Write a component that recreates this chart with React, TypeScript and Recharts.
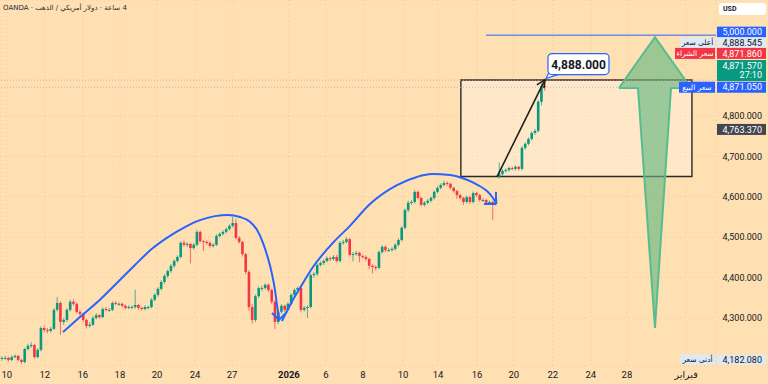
import React from 'react';
import {
  ComposedChart,
  Bar,
  Line,
  Area,
  XAxis,
  YAxis,
  CartesianGrid,
  ReferenceLine,
  ReferenceArea,
  ReferenceDot,
} from 'recharts';

type Candle = [number, number, number, number]; // open, high, low, close

// ---- 4h candles ----
const candlesDecember: Candle[] = [
  [4199, 4205, 4194, 4201], [4201, 4206, 4197, 4201], [4201, 4204, 4192, 4196], [4196, 4207, 4193, 4203],
  [4203, 4210, 4200, 4206], [4206, 4208, 4193, 4196], [4196, 4199, 4186, 4191], [4191, 4226, 4188, 4223],
  [4223, 4236, 4219, 4231], [4231, 4240, 4226, 4233], [4233, 4236, 4199, 4203], [4203, 4225, 4200, 4221],
  [4221, 4279, 4217, 4275], [4275, 4281, 4265, 4270], [4270, 4275, 4262, 4268], [4268, 4278, 4264, 4273],
  [4273, 4324, 4270, 4320], [4320, 4352, 4316, 4337], [4337, 4341, 4258, 4290], [4290, 4300, 4283, 4295],
  [4295, 4324, 4290, 4320], [4320, 4345, 4316, 4340], [4340, 4346, 4330, 4335], [4335, 4338, 4311, 4315],
  [4315, 4319, 4304, 4310], [4310, 4313, 4290, 4295], [4295, 4298, 4274, 4280], [4280, 4290, 4276, 4283],
  [4283, 4305, 4280, 4300], [4300, 4312, 4296, 4307], [4307, 4310, 4298, 4302], [4302, 4326, 4299, 4322],
  [4322, 4327, 4316, 4320], [4320, 4325, 4315, 4320], [4320, 4341, 4317, 4337], [4337, 4342, 4331, 4335],
  [4335, 4339, 4330, 4335], [4335, 4338, 4326, 4330], [4330, 4333, 4321, 4325], [4325, 4331, 4322, 4327],
  [4327, 4331, 4322, 4327], [4327, 4370, 4323, 4332], [4332, 4335, 4320, 4325], [4325, 4328, 4318, 4322],
  [4322, 4331, 4319, 4327], [4327, 4330, 4321, 4327], [4327, 4349, 4324, 4345], [4345, 4361, 4341, 4357],
  [4357, 4376, 4353, 4372], [4372, 4393, 4368, 4389], [4389, 4408, 4384, 4404], [4404, 4420, 4399, 4416],
  [4416, 4433, 4411, 4429], [4429, 4445, 4424, 4441], [4441, 4455, 4437, 4451], [4451, 4490, 4447, 4486],
  [4486, 4492, 4476, 4481], [4481, 4488, 4476, 4483], [4483, 4486, 4435, 4473], [4473, 4485, 4469, 4481],
  [4481, 4518, 4477, 4513], [4513, 4516, 4486, 4490], [4490, 4494, 4466, 4488], [4488, 4492, 4481, 4486],
  [4486, 4489, 4474, 4478], [4478, 4485, 4474, 4481], [4481, 4507, 4478, 4503], [4503, 4512, 4499, 4508],
  [4508, 4517, 4504, 4513], [4513, 4524, 4509, 4520], [4520, 4532, 4516, 4528], [4528, 4550, 4524, 4535],
  [4535, 4545, 4494, 4498], [4498, 4503, 4484, 4488], [4488, 4491, 4452, 4458], [4458, 4461, 4408, 4414],
  [4414, 4418, 4318, 4327], [4327, 4335, 4286, 4295],
];

const candlesJanuary: Candle[] = [
  [4295, 4358, 4290, 4354], [4354, 4378, 4349, 4374], [4374, 4380, 4366, 4374], [4374, 4386, 4370, 4382],
  [4382, 4385, 4364, 4369], [4369, 4372, 4334, 4340], [4340, 4344, 4272, 4290], [4290, 4319, 4285, 4315],
  [4315, 4334, 4310, 4330], [4330, 4333, 4315, 4320], [4320, 4339, 4316, 4335], [4335, 4361, 4331, 4357],
  [4357, 4373, 4352, 4369], [4369, 4378, 4364, 4374], [4374, 4377, 4314, 4320], [4320, 4330, 4316, 4325],
  [4325, 4331, 4300, 4327], [4327, 4410, 4324, 4406], [4406, 4414, 4400, 4409], [4409, 4435, 4404, 4431],
  [4431, 4440, 4427, 4436], [4436, 4445, 4431, 4441], [4441, 4452, 4437, 4448], [4448, 4452, 4441, 4446],
  [4446, 4455, 4442, 4451], [4451, 4456, 4437, 4441], [4441, 4490, 4437, 4486], [4486, 4493, 4481, 4488],
  [4488, 4500, 4484, 4495], [4495, 4498, 4452, 4456], [4456, 4463, 4440, 4458], [4458, 4466, 4454, 4461],
  [4461, 4464, 4438, 4453], [4453, 4457, 4447, 4451], [4451, 4455, 4440, 4446], [4446, 4449, 4420, 4429],
  [4429, 4433, 4410, 4426], [4426, 4430, 4418, 4424], [4424, 4467, 4420, 4463], [4463, 4480, 4459, 4476],
  [4476, 4480, 4463, 4468], [4468, 4473, 4463, 4468], [4468, 4475, 4464, 4471], [4471, 4485, 4467, 4481],
  [4481, 4497, 4477, 4493], [4493, 4527, 4489, 4523], [4523, 4571, 4519, 4567], [4567, 4590, 4562, 4585],
  [4585, 4592, 4580, 4587], [4587, 4616, 4583, 4612], [4612, 4615, 4593, 4597], [4597, 4600, 4576, 4580],
  [4580, 4589, 4576, 4585], [4585, 4594, 4581, 4590], [4590, 4601, 4586, 4597], [4597, 4616, 4593, 4612],
  [4612, 4626, 4608, 4622], [4622, 4633, 4618, 4629], [4629, 4640, 4625, 4634], [4634, 4638, 4627, 4632],
  [4632, 4635, 4618, 4622], [4622, 4625, 4610, 4614], [4614, 4617, 4595, 4604], [4604, 4607, 4593, 4597],
  [4597, 4600, 4580, 4587], [4587, 4603, 4583, 4599], [4599, 4602, 4582, 4587], [4587, 4613, 4583, 4609],
  [4609, 4612, 4600, 4604], [4604, 4607, 4588, 4592], [4592, 4597, 4587, 4592], [4592, 4595, 4581, 4585],
  [4585, 4591, 4581, 4587], [4587, 4590, 4543, 4582], [4582, 4598, 4578, 4594],
];

const candlesRally: Candle[] = [
  [4649, 4685, 4645, 4656], [4656, 4668, 4652, 4664], [4664, 4670, 4660, 4666], [4666, 4675, 4662, 4671],
  [4671, 4675, 4665, 4669], [4669, 4678, 4665, 4674], [4674, 4677, 4664, 4669], [4669, 4725, 4665, 4721],
  [4721, 4735, 4716, 4731], [4731, 4747, 4727, 4743], [4743, 4762, 4739, 4758], [4758, 4768, 4753, 4763],
  [4763, 4840, 4759, 4835], [4835, 4880, 4826, 4874], [4874, 4888, 4862, 4872],
];

// ---- time axis (bar index → label) ----
const tickIndex = [1.5, 13.2, 24.9, 36.3, 47.7, 59.4, 70.8, 88.3, 99.7, 111.1, 123.4, 134.2, 146.2, 157.5, 169.5, 181.2, 192.3, 210.5];
const tickLabels = ['10', '12', '16', '18', '20', '24', '27', '2026', '6', '8', '10', '14', '16', '20', '22', '24', '28', 'فبراير'];
const priceTicks = [4300, 4400, 4500, 4600, 4700, 4800];

// ---- drawings, as [bar index, price] ----
const arcLeft: [number, number][] = [
  [18.77, 4265], [24.0, 4302], [30.15, 4345], [35.69, 4389], [40.92, 4431], [46.15, 4471], [51.08, 4500],
  [56.31, 4525], [60.92, 4542], [65.54, 4552], [69.54, 4555], [73.23, 4550], [76.31, 4538], [78.46, 4518],
  [80.31, 4486], [81.85, 4448], [83.08, 4409], [84.0, 4369], [84.62, 4332], [85.23, 4300],
];
const arcLeftHead: [number, number][] = [[83.08, 4312], [85.23, 4295], [87.69, 4315]];
const arcRight: [number, number][] = [
  [86.15, 4292], [87.69, 4317], [89.54, 4345], [91.69, 4374], [95.69, 4426], [101.85, 4486], [107.08, 4528],
  [113.23, 4582], [121.54, 4629], [127.69, 4649], [132.31, 4656], [137.85, 4654], [142.46, 4644],
  [146.46, 4629], [149.23, 4614], [151.08, 4597], [152.0, 4585],
];
const arcRightHead: [number, number][][] = [
  [[148.3, 4582], [152.0, 4582]],
  [[152.0, 4612], [152.0, 4582]],
];
const arrowStart: [number, number] = [152.3, 4649];
const arrowTip: [number, number] = [167.08, 4890];
const arrowWings: [number, number][] = [[164.6, 4877], [166.77, 4869]];
const targetPrice = 4888;
const targetBox = { x1: 141.2, x2: 212.3, y1: 4650, y2: 4889 };
const targetLine = { from: 148.9, price: 5000 };
// big up arrow outline: [bar index, lower price, upper price]
const bigArrow: [number, number, number][] = [
  [189.85, 4869, 4869], [195.69, 4869, 4936], [200.92, 4275, 4995], [205.85, 4869, 4939], [212.0, 4869, 4869],
];

// ---- price-axis tags ----
const tagPrices = [5000, 4888.545, 4871.86, 4871.57, 4871.05, 4763.37, 4182.08];
const tagValues = ['5,000.000', '4,888.545', '4,871.860', '4,871.570', '4,871.050', '4,763.370', '4,182.080'];
const tagNames = ['', 'أعلى سعر', 'سعر الشراء', '', 'سعر البيع', '', 'أدنى سعر'];
const tagSubs = ['', '', '', '27:10', '', '', ''];

// ---- header ----
const headerParts = ['OANDA', 'دولار أمريكي / الذهب', '4 ساعة'];

const UP = '#089981';
const DOWN = '#F23645';
const BLUE = '#2962FF';
const BG = '#FFE0B2';
const TEXT = '#131722';
const FONT = 'Roboto, "Liberation Sans", sans-serif';
const AR_FONT = '"DejaVu Sans", "Noto Sans", sans-serif';

const tagStyles = [
  { bg: BLUE, fg: '#fff', dy: -3, h: 11, nameW: 0, nameBg: '', nameFg: '' },
  { bg: '#dfe9f6', fg: TEXT, dy: -37.5, h: 11, nameW: 36, nameBg: '#dfe9f6', nameFg: TEXT },
  { bg: DOWN, fg: '#fff', dy: -33.5, h: 11, nameW: 41, nameBg: DOWN, nameFg: '#fff' },
  { bg: UP, fg: '#fff', dy: -16.5, h: 21, nameW: 0, nameBg: '', nameFg: '' },
  { bg: BLUE, fg: '#fff', dy: 0, h: 11, nameW: 37, nameBg: BLUE, nameFg: '#fff' },
  { bg: '#434651', fg: '#fff', dy: -1.3, h: 11, nameW: 0, nameBg: '', nameFg: '' },
  { bg: '#dfe9f6', fg: TEXT, dy: -6, h: 10, nameW: 36, nameBg: '#dfe9f6', nameFg: TEXT },
];

const X_MIN = -0.6;
const X_MAX = 219.7;

const allCandles: Candle[] = [...candlesDecember, ...candlesJanuary, ...candlesRally];
const candleRows = allCandles.map(([o, h, l, c], i) => ({ i, o, h, l, c, range: [l, h] }));
const toRows = (pts: [number, number][]) => pts.map(([i, p]) => ({ i, p }));
const bigArrowRows = bigArrow.map(([i, lo, hi]) => ({ i, r: [lo, hi] }));

const fmtPrice = (v: number) =>
  v.toLocaleString('en-US', { minimumFractionDigits: 3, maximumFractionDigits: 3 });

function CandleShape(props: any) {
  const { x, y, width, height, payload } = props;
  if (!payload || !Number.isFinite(y) || !Number.isFinite(height)) return null;
  const { o, h, l, c } = payload;
  const top = Math.min(y, y + height);
  const span = Math.abs(height);
  const toPx = (v: number) => top + ((h - v) / (h - l)) * span;
  const cx = x + width / 2;
  const color = c >= o ? UP : DOWN;
  const bTop = toPx(Math.max(o, c));
  const bBot = toPx(Math.min(o, c));
  return (
    <g>
      <line x1={cx} x2={cx} y1={top} y2={top + span} stroke={color} strokeOpacity={0.7} strokeWidth={1} />
      <rect x={cx - 1.3} y={bTop} width={2.6} height={Math.max(1, bBot - bTop)} fill={color} />
    </g>
  );
}

function TimeTick(props: any) {
  const { x, y, payload } = props;
  let k = tickIndex.indexOf(payload.value);
  if (k < 0) k = props.index;
  const label = tickLabels[k] ?? '';
  const bold = label === '2026';
  return (
    <text
      x={x}
      y={y + 11.5}
      textAnchor="middle"
      fontSize={9.5}
      fontWeight={bold ? 700 : 400}
      fill={TEXT}
      fontFamily={label === 'فبراير' ? AR_FONT : FONT}
    >
      {label}
    </text>
  );
}

function PriceTick(props: any) {
  const { x, y, payload } = props;
  return (
    <text x={x + 46} y={y + 3.3} textAnchor="end" fontSize={9} fill={TEXT} fontFamily={FONT}>
      {fmtPrice(payload.value)}
    </text>
  );
}

function AxisTag({ cx, cy, k }: { cx: number; cy: number; k: number }) {
  if (!Number.isFinite(cx) || !Number.isFinite(cy)) return null;
  const st = tagStyles[k];
  const mid = cy + st.dy;
  const top = mid - st.h / 2;
  const twoLine = tagSubs[k] !== '';
  return (
    <g>
      {tagNames[k] !== '' && (
        <g>
          <rect x={cx - st.nameW} y={top} width={st.nameW - 1} height={st.h} fill={st.nameBg} />
          <text
            x={cx - st.nameW / 2 - 0.5}
            y={top + st.h / 2 + 2.8}
            textAnchor="middle"
            fontSize={7.5}
            fill={st.nameFg}
            fontFamily={AR_FONT}
          >
            {tagNames[k]}
          </text>
        </g>
      )}
      <rect x={cx + 1} y={top} width={49} height={st.h} fill={st.bg} />
      <text
        x={cx + 46}
        y={twoLine ? top + 9 : top + st.h / 2 + 3.2}
        textAnchor="end"
        fontSize={9}
        fill={st.fg}
        fontFamily={FONT}
      >
        {tagValues[k]}
      </text>
      {twoLine && (
        <text x={cx + 46} y={top + 18} textAnchor="end" fontSize={9} fill={st.fg} fontFamily={FONT}>
          {tagSubs[k]}
        </text>
      )}
    </g>
  );
}

function Callout({ cx, cy }: { cx: number; cy: number }) {
  if (!Number.isFinite(cx) || !Number.isFinite(cy)) return null;
  return (
    <g>
      <path
        d={`M${cx + 5},${cy - 9} L${cx + 1},${cy - 1} L${cx + 13},${cy - 5} Z`}
        fill="#fff"
        stroke={BLUE}
        strokeWidth={1.2}
      />
      <rect x={cx + 3} y={cy - 26} width={61} height={21} rx={4} fill="#fff" stroke={BLUE} strokeWidth={1.2} />
      <rect x={cx + 5} y={cy - 9} width={9} height={3} fill="#fff" />
      <text
        x={cx + 33.5}
        y={cy - 11}
        textAnchor="middle"
        fontSize={12}
        fontWeight={700}
        fill={TEXT}
        fontFamily={FONT}
      >
        {fmtPrice(targetPrice)}
      </text>
    </g>
  );
}

export default function App() {
  return (
    <div style={{ position: 'absolute', left: 0, top: 0, width: 768, height: 384, background: BG, overflow: 'hidden' }}>
      <ComposedChart
        width={768}
        height={384}
        data={candleRows}
        margin={{ top: 0, right: 0, bottom: 0, left: 0 }}
      >
        <CartesianGrid stroke="#d8b27f" strokeOpacity={0.45} strokeDasharray="1 3" />
        <XAxis
          dataKey="i"
          type="number"
          domain={[X_MIN, X_MAX]}
          allowDataOverflow
          ticks={tickIndex}
          interval={0}
          height={18}
          tickLine={false}
          axisLine={false}
          tickSize={0}
          tickMargin={0}
          tick={<TimeTick />}
        />
        <YAxis
          orientation="right"
          type="number"
          domain={[4181, 5087]}
          allowDataOverflow
          ticks={priceTicks}
          interval={0}
          width={52}
          tickLine={false}
          axisLine={false}
          tickSize={0}
          tickMargin={0}
          tick={<PriceTick />}
        />
        <ReferenceArea
          x1={targetBox.x1}
          x2={targetBox.x2}
          y1={targetBox.y1}
          y2={targetBox.y2}
          fill="#ffffff"
          fillOpacity={0.28}
          stroke="#2a2a2a"
          strokeWidth={1.4}
          ifOverflow="visible"
        />
        <ReferenceLine y={tagPrices[1]} stroke="#e39a9a" strokeDasharray="1 2" strokeOpacity={0.8} />
        <ReferenceLine y={tagPrices[4]} stroke="#9fb2e6" strokeDasharray="1 2" strokeOpacity={0.8} />
        <ReferenceLine
          segment={[{ x: targetLine.from, y: targetLine.price }, { x: X_MAX, y: targetLine.price }]}
          stroke={BLUE}
          strokeWidth={1}
        />
        <Area
          data={bigArrowRows}
          dataKey="r"
          type="linear"
          fill="#5fb77e"
          fillOpacity={0.62}
          stroke="#55bd8f"
          strokeWidth={2}
          isAnimationActive={false}
          dot={false}
          activeDot={false}
        />
        <Bar dataKey="range" barSize={3} shape={<CandleShape />} isAnimationActive={false} />
        <Line data={toRows(arcLeft)} dataKey="p" type="monotone" stroke={BLUE} strokeWidth={2} dot={false} activeDot={false} isAnimationActive={false} />
        <Line data={toRows(arcLeftHead)} dataKey="p" type="linear" stroke={BLUE} strokeWidth={2} dot={false} activeDot={false} isAnimationActive={false} />
        <Line data={toRows(arcRight)} dataKey="p" type="monotone" stroke={BLUE} strokeWidth={2} dot={false} activeDot={false} isAnimationActive={false} />
        {arcRightHead.map((seg, k) => (
          <ReferenceLine
            key={`h${k}`}
            segment={[{ x: seg[0][0], y: seg[0][1] }, { x: seg[1][0], y: seg[1][1] }]}
            stroke={BLUE}
            strokeWidth={2}
          />
        ))}
        <ReferenceLine
          segment={[{ x: arrowStart[0], y: arrowStart[1] }, { x: arrowTip[0], y: arrowTip[1] }]}
          stroke="#1e1e1e"
          strokeWidth={1.6}
        />
        {arrowWings.map((w, k) => (
          <ReferenceLine
            key={`w${k}`}
            segment={[{ x: w[0], y: w[1] }, { x: arrowTip[0], y: arrowTip[1] }]}
            stroke="#1e1e1e"
            strokeWidth={1.6}
          />
        ))}
        <ReferenceDot
          x={arrowTip[0]}
          y={arrowTip[1]}
          r={0}
          ifOverflow="visible"
          shape={(sp: any) => <Callout cx={sp.cx} cy={sp.cy} />}
        />
        {tagPrices.map((p, k) => (
          <ReferenceDot
            key={`t${k}`}
            x={X_MAX}
            y={p}
            r={0}
            ifOverflow="visible"
            shape={(sp: any) => <AxisTag cx={sp.cx} cy={sp.cy} k={k} />}
          />
        ))}
      </ComposedChart>
      <div
        dir="ltr"
        style={{
          position: 'absolute',
          left: 3,
          top: 4,
          fontSize: 7,
          color: '#2a2e39',
          fontFamily: AR_FONT,
          whiteSpace: 'nowrap',
          lineHeight: '9px',
        }}
      >
        {headerParts.map((part, k) => (
          <React.Fragment key={k}>
            {k > 0 && <span> · </span>}
            <bdi>{part}</bdi>
          </React.Fragment>
        ))}
      </div>
      <div
        style={{
          position: 'absolute',
          left: 719,
          top: 3,
          width: 47,
          height: 12,
          background: '#ffffff',
          borderRadius: 3,
          fontSize: 7,
          fontWeight: 700,
          color: TEXT,
          fontFamily: FONT,
          lineHeight: '12px',
          paddingLeft: 4,
          boxSizing: 'border-box',
        }}
      >
        USD
      </div>
    </div>
  );
}
